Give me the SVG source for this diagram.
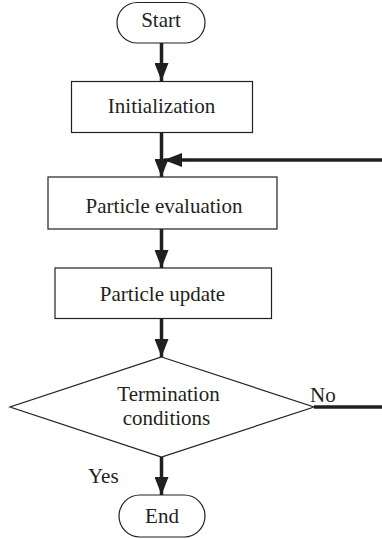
<svg xmlns="http://www.w3.org/2000/svg" width="382" height="539" viewBox="0 0 382 539">
  <style>
    .shape { fill: #ffffff; stroke: #231f20; stroke-width: 1.2; }
    .label { font-family: "Liberation Serif", "Times New Roman", serif; font-size: 21px; fill: #231f20; text-anchor: middle; }
    .side { font-family: "Liberation Serif", "Times New Roman", serif; font-size: 21px; fill: #231f20; }
    .flow { fill: none; stroke: #231f20; stroke-width: 3.5; }
  </style>
  <defs>
    <marker id="head" markerUnits="userSpaceOnUse" markerWidth="18" markerHeight="14" refX="18" refY="7" orient="auto">
      <path d="M0,0 L18,7 L0,14 Z" fill="#231f20"/>
    </marker>
  </defs>

  <rect width="382" height="539" fill="#ffffff"/>

  <g id="connectors">
    <line class="flow" x1="161.5" y1="43" x2="161.5" y2="81" marker-end="url(#head)"/>
    <line class="flow" x1="161.5" y1="132.5" x2="161.5" y2="177" marker-end="url(#head)"/>
    <line class="flow" x1="382" y1="160" x2="164" y2="160" marker-end="url(#head)"/>
    <line class="flow" x1="161.5" y1="229" x2="161.5" y2="268" marker-end="url(#head)"/>
    <line class="flow" x1="161.5" y1="318.5" x2="161.5" y2="357" marker-end="url(#head)"/>
    <line class="flow" x1="314" y1="407" x2="382" y2="407"/>
    <line class="flow" x1="161.5" y1="457" x2="161.5" y2="495" marker-end="url(#head)"/>
    <text class="side" x="310" y="401.5">No</text>
    <text class="side" x="88" y="482.5">Yes</text>
  </g>

  <g id="start">
    <rect class="shape" x="117" y="2.5" width="88" height="40.5" rx="20.25"/>
    <text class="label" x="161" y="26.5">Start</text>
  </g>

  <g id="initialization">
    <rect class="shape" x="71.5" y="81.5" width="181" height="51"/>
    <text class="label" x="161.5" y="113">Initialization</text>
  </g>

  <g id="particle-evaluation">
    <rect class="shape" x="48" y="177" width="229" height="52"/>
    <text class="label" x="164" y="212.5">Particle evaluation</text>
  </g>

  <g id="particle-update">
    <rect class="shape" x="55" y="268" width="216.5" height="50.5"/>
    <text class="label" x="162.5" y="301">Particle update</text>
  </g>

  <g id="termination">
    <polygon class="shape" points="161.5,357 314,407 161.5,457 10,407"/>
    <text class="label" x="168.5" y="400.5">Termination</text>
    <text class="label" x="166.5" y="425">conditions</text>
  </g>

  <g id="end">
    <rect class="shape" x="119" y="495" width="86" height="42" rx="21"/>
    <text class="label" x="162" y="522.5">End</text>
  </g>
</svg>
